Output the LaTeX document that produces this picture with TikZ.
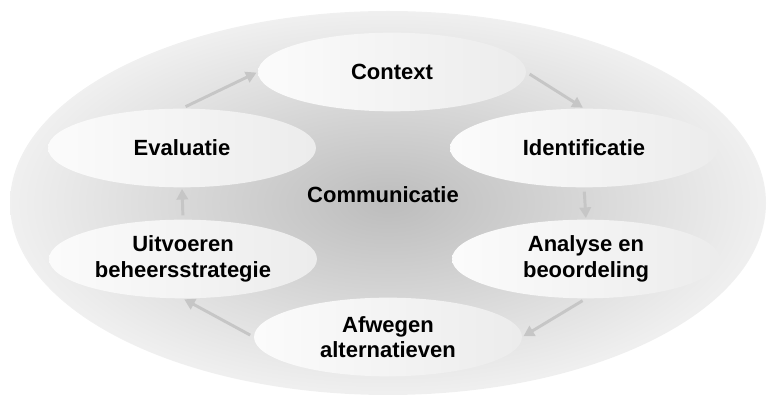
\documentclass[tikz,border=0pt]{standalone}
\usepackage{fontspec}
\setmainfont{Liberation Sans}
\usetikzlibrary{shapes.geometric,arrows.meta}
\tikzset{
  phase/.style={ellipse, inner sep=0pt, minimum width=201pt, minimum height=59pt,
    left color=gray!3, right color=gray!15, align=center,
    font=\bfseries\fontsize{16.5}{19}\selectfont},
  flow/.style={-{Triangle[length=8pt,width=8.5pt]}, line width=2.2pt, draw=gray!45}
}
\begin{document}
\begin{tikzpicture}[x=0.75pt,y=-0.75pt]
			\useasboundingbox (0,0) rectangle (768,398);
			\shade[inner color=gray!52, outer color=gray!12] (388,203) ellipse [x radius=378, y radius=192];
			\node[phase] (ctx)  at (392,72)  {Context};
			\node[phase] (eval) at (182,148) {Evaluatie};
			\node[phase] (iden) at (584,148) {Identificatie};
			\node[phase] (uitv) at (183,259) {Uitvoeren\\beheersstrategie};
			\node[phase] (anal) at (586,259) {Analyse en\\beoordeling};
			\node[phase] (afw)  at (388,337) {Afwegen\\alternatieven};
			\node[font=\bfseries\fontsize{16.5}{19}\selectfont] (comm) at (383,195) {Communicatie};
			%
			\def\cycle {eval.north/ctx.west, ctx.east/iden.north, iden.south/anal.north, anal.south/afw.east, afw.west/uitv.south, uitv.north/eval.south}  % steps of the cycle
			\foreach \u/\v in \cycle
			{	\draw[flow, shorten <=3pt, shorten >=1pt] (\u) -- (\v);
			}
			%
		\end{tikzpicture}
\end{document}
